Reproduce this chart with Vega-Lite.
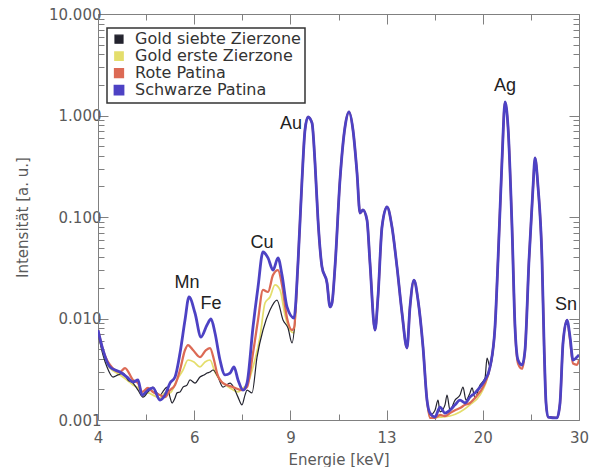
{
  "$schema": "https://vega.github.io/schema/vega-lite/v6.json",
  "width": 481,
  "height": 406,
  "autosize": {"type": "none"},
  "padding": {"left": 98, "top": 14, "right": 11, "bottom": 47},
  "background": "white",
  "config": {
    "view": {"stroke": null},
    "axis": {"grid": false, "domainColor": "#808080", "tickColor": "#808080", "labelFont": "DejaVu Sans", "labelFontSize": 15, "labelColor": "#5a5a5a", "titleFont": "DejaVu Sans", "titleFontSize": 15, "titleColor": "#5a5a5a", "titleFontWeight": "normal"}
  },
  "datasets": {
    "labels": [
      {"label": "Mn", "energy": 5.807, "intensity": 0.02},
      {"label": "Fe", "energy": 6.422, "intensity": 0.01241},
      {"label": "Cu", "energy": 7.951, "intensity": 0.0495},
      {"label": "Au", "energy": 8.978, "intensity": 0.7362},
      {"label": "Ag", "energy": 22.006, "intensity": 1.743},
      {"label": "Sn", "energy": 28.413, "intensity": 0.01213}
    ],
    "spectra": [
      {"series": "Gold erste Zierzone", "energy": 4.0, "intensity": 0.00736},
      {"series": "Gold erste Zierzone", "energy": 4.085, "intensity": 0.00468},
      {"series": "Gold erste Zierzone", "energy": 4.206, "intensity": 0.00325},
      {"series": "Gold erste Zierzone", "energy": 4.386, "intensity": 0.00278},
      {"series": "Gold erste Zierzone", "energy": 4.517, "intensity": 0.00248},
      {"series": "Gold erste Zierzone", "energy": 4.632, "intensity": 0.00221},
      {"series": "Gold erste Zierzone", "energy": 4.73, "intensity": 0.00207},
      {"series": "Gold erste Zierzone", "energy": 4.81, "intensity": 0.00176},
      {"series": "Gold erste Zierzone", "energy": 4.932, "intensity": 0.00185},
      {"series": "Gold erste Zierzone", "energy": 5.036, "intensity": 0.00176},
      {"series": "Gold erste Zierzone", "energy": 5.186, "intensity": 0.00165},
      {"series": "Gold erste Zierzone", "energy": 5.296, "intensity": 0.00185},
      {"series": "Gold erste Zierzone", "energy": 5.408, "intensity": 0.00185},
      {"series": "Gold erste Zierzone", "energy": 5.569, "intensity": 0.00248},
      {"series": "Gold erste Zierzone", "energy": 5.711, "intensity": 0.00311},
      {"series": "Gold erste Zierzone", "energy": 5.832, "intensity": 0.0039},
      {"series": "Gold erste Zierzone", "energy": 5.98, "intensity": 0.00373},
      {"series": "Gold erste Zierzone", "energy": 6.132, "intensity": 0.00333},
      {"series": "Gold erste Zierzone", "energy": 6.262, "intensity": 0.00373},
      {"series": "Gold erste Zierzone", "energy": 6.395, "intensity": 0.0039},
      {"series": "Gold erste Zierzone", "energy": 6.53, "intensity": 0.00297},
      {"series": "Gold erste Zierzone", "energy": 6.668, "intensity": 0.00248},
      {"series": "Gold erste Zierzone", "energy": 6.954, "intensity": 0.00207},
      {"series": "Gold erste Zierzone", "energy": 7.191, "intensity": 0.00189},
      {"series": "Gold erste Zierzone", "energy": 7.343, "intensity": 0.00207},
      {"series": "Gold erste Zierzone", "energy": 7.467, "intensity": 0.00221},
      {"series": "Gold erste Zierzone", "energy": 7.657, "intensity": 0.00333},
      {"series": "Gold erste Zierzone", "energy": 7.885, "intensity": 0.00657},
      {"series": "Gold erste Zierzone", "energy": 8.052, "intensity": 0.0142},
      {"series": "Gold erste Zierzone", "energy": 8.222, "intensity": 0.0163},
      {"series": "Gold erste Zierzone", "energy": 8.396, "intensity": 0.0214},
      {"series": "Gold erste Zierzone", "energy": 8.574, "intensity": 0.0191},
      {"series": "Gold erste Zierzone", "energy": 8.755, "intensity": 0.01083},
      {"series": "Gold erste Zierzone", "energy": 8.94, "intensity": 0.0077},
      {"series": "Gold erste Zierzone", "energy": 9.092, "intensity": 0.0072},
      {"series": "Gold erste Zierzone", "energy": 9.245, "intensity": 0.0352},
      {"series": "Gold erste Zierzone", "energy": 9.402, "intensity": 0.2314},
      {"series": "Gold erste Zierzone", "energy": 9.52, "intensity": 0.7197},
      {"series": "Gold erste Zierzone", "energy": 9.641, "intensity": 0.9665},
      {"series": "Gold erste Zierzone", "energy": 9.804, "intensity": 0.8435},
      {"series": "Gold erste Zierzone", "energy": 9.928, "intensity": 0.3404},
      {"series": "Gold erste Zierzone", "energy": 10.053, "intensity": 0.0934},
      {"series": "Gold erste Zierzone", "energy": 10.223, "intensity": 0.0322},
      {"series": "Gold erste Zierzone", "energy": 10.44, "intensity": 0.0224},
      {"series": "Gold erste Zierzone", "energy": 10.571, "intensity": 0.013},
      {"series": "Gold erste Zierzone", "energy": 10.66, "intensity": 0.0142},
      {"series": "Gold erste Zierzone", "energy": 10.795, "intensity": 0.0322},
      {"series": "Gold erste Zierzone", "energy": 11.023, "intensity": 0.2314},
      {"series": "Gold erste Zierzone", "energy": 11.257, "intensity": 0.77},
      {"series": "Gold erste Zierzone", "energy": 11.447, "intensity": 1.083},
      {"series": "Gold erste Zierzone", "energy": 11.64, "intensity": 0.7197},
      {"series": "Gold erste Zierzone", "energy": 11.838, "intensity": 0.2713},
      {"series": "Gold erste Zierzone", "energy": 11.986, "intensity": 0.1095},
      {"series": "Gold erste Zierzone", "energy": 12.138, "intensity": 0.1172},
      {"series": "Gold erste Zierzone", "energy": 12.343, "intensity": 0.0934},
      {"series": "Gold erste Zierzone", "energy": 12.499, "intensity": 0.0352},
      {"series": "Gold erste Zierzone", "energy": 12.764, "intensity": 0.0077},
      {"series": "Gold erste Zierzone", "energy": 12.925, "intensity": 0.0163},
      {"series": "Gold erste Zierzone", "energy": 13.144, "intensity": 0.0797},
      {"series": "Gold erste Zierzone", "energy": 13.422, "intensity": 0.1255},
      {"series": "Gold erste Zierzone", "energy": 13.706, "intensity": 0.0797},
      {"series": "Gold erste Zierzone", "energy": 13.996, "intensity": 0.0322},
      {"series": "Gold erste Zierzone", "energy": 14.293, "intensity": 0.01133},
      {"series": "Gold erste Zierzone", "energy": 14.595, "intensity": 0.00512},
      {"series": "Gold erste Zierzone", "energy": 14.78, "intensity": 0.013},
      {"series": "Gold erste Zierzone", "energy": 15.029, "intensity": 0.0239},
      {"series": "Gold erste Zierzone", "energy": 15.284, "intensity": 0.0152},
      {"series": "Gold erste Zierzone", "energy": 15.607, "intensity": 0.00524},
      {"series": "Gold erste Zierzone", "energy": 15.871, "intensity": 0.00157},
      {"series": "Gold erste Zierzone", "energy": 16.071, "intensity": 0.00105},
      {"series": "Gold erste Zierzone", "energy": 16.759, "intensity": 0.00107},
      {"series": "Gold erste Zierzone", "energy": 17.476, "intensity": 0.001095},
      {"series": "Gold erste Zierzone", "energy": 18.224, "intensity": 0.0012},
      {"series": "Gold erste Zierzone", "energy": 19.004, "intensity": 0.00141},
      {"series": "Gold erste Zierzone", "energy": 19.817, "intensity": 0.00176},
      {"series": "Gold erste Zierzone", "energy": 20.238, "intensity": 0.00221},
      {"series": "Gold erste Zierzone", "energy": 20.666, "intensity": 0.00333},
      {"series": "Gold erste Zierzone", "energy": 21.102, "intensity": 0.00825},
      {"series": "Gold erste Zierzone", "energy": 21.37, "intensity": 0.0377},
      {"series": "Gold erste Zierzone", "energy": 21.732, "intensity": 0.3643},
      {"series": "Gold erste Zierzone", "energy": 22.006, "intensity": 1.358},
      {"series": "Gold erste Zierzone", "energy": 22.285, "intensity": 0.77},
      {"series": "Gold erste Zierzone", "energy": 22.66, "intensity": 0.0797},
      {"series": "Gold erste Zierzone", "energy": 22.947, "intensity": 0.00825},
      {"series": "Gold erste Zierzone", "energy": 23.238, "intensity": 0.0039},
      {"series": "Gold erste Zierzone", "energy": 23.63, "intensity": 0.00348},
      {"series": "Gold erste Zierzone", "energy": 23.929, "intensity": 0.00489},
      {"series": "Gold erste Zierzone", "energy": 24.332, "intensity": 0.0377},
      {"series": "Gold erste Zierzone", "energy": 24.745, "intensity": 0.1975},
      {"series": "Gold erste Zierzone", "energy": 24.953, "intensity": 0.3814},
      {"series": "Gold erste Zierzone", "energy": 25.27, "intensity": 0.1975},
      {"series": "Gold erste Zierzone", "energy": 25.695, "intensity": 0.0377},
      {"series": "Gold erste Zierzone", "energy": 25.912, "intensity": 0.00574},
      {"series": "Gold erste Zierzone", "energy": 26.13, "intensity": 0.00147},
      {"series": "Gold erste Zierzone", "energy": 26.351, "intensity": 0.00107},
      {"series": "Gold erste Zierzone", "energy": 27.363, "intensity": 0.00105},
      {"series": "Gold erste Zierzone", "energy": 27.707, "intensity": 0.00147},
      {"series": "Gold erste Zierzone", "energy": 28.058, "intensity": 0.00574},
      {"series": "Gold erste Zierzone", "energy": 28.531, "intensity": 0.00966},
      {"series": "Gold erste Zierzone", "energy": 28.893, "intensity": 0.00657},
      {"series": "Gold erste Zierzone", "energy": 29.259, "intensity": 0.0039},
      {"series": "Gold erste Zierzone", "energy": 29.752, "intensity": 0.00417},
      {"series": "Gold erste Zierzone", "energy": 30.0, "intensity": 0.00437},

      {"series": "Gold siebte Zierzone", "energy": 4.0, "intensity": 0.0072},
      {"series": "Gold siebte Zierzone", "energy": 4.085, "intensity": 0.00437},
      {"series": "Gold siebte Zierzone", "energy": 4.154, "intensity": 0.00333},
      {"series": "Gold siebte Zierzone", "energy": 4.26, "intensity": 0.00265},
      {"series": "Gold siebte Zierzone", "energy": 4.35, "intensity": 0.00278},
      {"series": "Gold siebte Zierzone", "energy": 4.442, "intensity": 0.0029},
      {"series": "Gold siebte Zierzone", "energy": 4.536, "intensity": 0.00248},
      {"series": "Gold siebte Zierzone", "energy": 4.632, "intensity": 0.00231},
      {"series": "Gold siebte Zierzone", "energy": 4.73, "intensity": 0.00197},
      {"series": "Gold siebte Zierzone", "energy": 4.83, "intensity": 0.00168},
      {"series": "Gold siebte Zierzone", "energy": 4.932, "intensity": 0.00189},
      {"series": "Gold siebte Zierzone", "energy": 5.036, "intensity": 0.00211},
      {"series": "Gold siebte Zierzone", "energy": 5.121, "intensity": 0.00185},
      {"series": "Gold siebte Zierzone", "energy": 5.186, "intensity": 0.00176},
      {"series": "Gold siebte Zierzone", "energy": 5.274, "intensity": 0.00197},
      {"series": "Gold siebte Zierzone", "energy": 5.341, "intensity": 0.00211},
      {"series": "Gold siebte Zierzone", "energy": 5.408, "intensity": 0.00168},
      {"series": "Gold siebte Zierzone", "energy": 5.454, "intensity": 0.00147},
      {"series": "Gold siebte Zierzone", "energy": 5.523, "intensity": 0.00165},
      {"series": "Gold siebte Zierzone", "energy": 5.569, "intensity": 0.00185},
      {"series": "Gold siebte Zierzone", "energy": 5.64, "intensity": 0.00189},
      {"series": "Gold siebte Zierzone", "energy": 5.711, "intensity": 0.00211},
      {"series": "Gold siebte Zierzone", "energy": 5.807, "intensity": 0.00221},
      {"series": "Gold siebte Zierzone", "energy": 5.881, "intensity": 0.00248},
      {"series": "Gold siebte Zierzone", "energy": 6.005, "intensity": 0.00231},
      {"series": "Gold siebte Zierzone", "energy": 6.132, "intensity": 0.00265},
      {"series": "Gold siebte Zierzone", "energy": 6.236, "intensity": 0.00278},
      {"series": "Gold siebte Zierzone", "energy": 6.315, "intensity": 0.0029},
      {"series": "Gold siebte Zierzone", "energy": 6.395, "intensity": 0.00297},
      {"series": "Gold siebte Zierzone", "energy": 6.475, "intensity": 0.00311},
      {"series": "Gold siebte Zierzone", "energy": 6.612, "intensity": 0.00265},
      {"series": "Gold siebte Zierzone", "energy": 6.752, "intensity": 0.00211},
      {"series": "Gold siebte Zierzone", "energy": 6.954, "intensity": 0.00231},
      {"series": "Gold siebte Zierzone", "energy": 7.071, "intensity": 0.00207},
      {"series": "Gold siebte Zierzone", "energy": 7.191, "intensity": 0.00168},
      {"series": "Gold siebte Zierzone", "energy": 7.312, "intensity": 0.00141},
      {"series": "Gold siebte Zierzone", "energy": 7.404, "intensity": 0.00176},
      {"series": "Gold siebte Zierzone", "energy": 7.467, "intensity": 0.00197},
      {"series": "Gold siebte Zierzone", "energy": 7.625, "intensity": 0.00185},
      {"series": "Gold siebte Zierzone", "energy": 7.787, "intensity": 0.00417},
      {"series": "Gold siebte Zierzone", "energy": 7.984, "intensity": 0.0077},
      {"series": "Gold siebte Zierzone", "energy": 8.222, "intensity": 0.01213},
      {"series": "Gold siebte Zierzone", "energy": 8.466, "intensity": 0.0152},
      {"series": "Gold siebte Zierzone", "energy": 8.682, "intensity": 0.00966},
      {"series": "Gold siebte Zierzone", "energy": 8.866, "intensity": 0.00806},
      {"series": "Gold siebte Zierzone", "energy": 9.016, "intensity": 0.00574},
      {"series": "Gold siebte Zierzone", "energy": 9.13, "intensity": 0.00966},
      {"series": "Gold siebte Zierzone", "energy": 9.245, "intensity": 0.0352},
      {"series": "Gold siebte Zierzone", "energy": 9.402, "intensity": 0.2314},
      {"series": "Gold siebte Zierzone", "energy": 9.52, "intensity": 0.7197},
      {"series": "Gold siebte Zierzone", "energy": 9.641, "intensity": 0.9665},
      {"series": "Gold siebte Zierzone", "energy": 9.804, "intensity": 0.8435},
      {"series": "Gold siebte Zierzone", "energy": 9.928, "intensity": 0.3404},
      {"series": "Gold siebte Zierzone", "energy": 10.053, "intensity": 0.0934},
      {"series": "Gold siebte Zierzone", "energy": 10.223, "intensity": 0.0322},
      {"series": "Gold siebte Zierzone", "energy": 10.44, "intensity": 0.0224},
      {"series": "Gold siebte Zierzone", "energy": 10.571, "intensity": 0.013},
      {"series": "Gold siebte Zierzone", "energy": 10.66, "intensity": 0.0142},
      {"series": "Gold siebte Zierzone", "energy": 10.795, "intensity": 0.0322},
      {"series": "Gold siebte Zierzone", "energy": 11.023, "intensity": 0.2314},
      {"series": "Gold siebte Zierzone", "energy": 11.257, "intensity": 0.77},
      {"series": "Gold siebte Zierzone", "energy": 11.447, "intensity": 1.083},
      {"series": "Gold siebte Zierzone", "energy": 11.64, "intensity": 0.7197},
      {"series": "Gold siebte Zierzone", "energy": 11.838, "intensity": 0.2713},
      {"series": "Gold siebte Zierzone", "energy": 11.986, "intensity": 0.1095},
      {"series": "Gold siebte Zierzone", "energy": 12.138, "intensity": 0.1172},
      {"series": "Gold siebte Zierzone", "energy": 12.343, "intensity": 0.0934},
      {"series": "Gold siebte Zierzone", "energy": 12.499, "intensity": 0.0352},
      {"series": "Gold siebte Zierzone", "energy": 12.764, "intensity": 0.0077},
      {"series": "Gold siebte Zierzone", "energy": 12.925, "intensity": 0.0163},
      {"series": "Gold siebte Zierzone", "energy": 13.144, "intensity": 0.0797},
      {"series": "Gold siebte Zierzone", "energy": 13.422, "intensity": 0.1255},
      {"series": "Gold siebte Zierzone", "energy": 13.706, "intensity": 0.0797},
      {"series": "Gold siebte Zierzone", "energy": 13.996, "intensity": 0.0322},
      {"series": "Gold siebte Zierzone", "energy": 14.293, "intensity": 0.01133},
      {"series": "Gold siebte Zierzone", "energy": 14.595, "intensity": 0.00512},
      {"series": "Gold siebte Zierzone", "energy": 14.78, "intensity": 0.013},
      {"series": "Gold siebte Zierzone", "energy": 15.029, "intensity": 0.0239},
      {"series": "Gold siebte Zierzone", "energy": 15.284, "intensity": 0.0152},
      {"series": "Gold siebte Zierzone", "energy": 15.607, "intensity": 0.00524},
      {"series": "Gold siebte Zierzone", "energy": 15.871, "intensity": 0.00157},
      {"series": "Gold siebte Zierzone", "energy": 16.071, "intensity": 0.00112},
      {"series": "Gold siebte Zierzone", "energy": 16.412, "intensity": 0.00125},
      {"series": "Gold siebte Zierzone", "energy": 16.62, "intensity": 0.00157},
      {"series": "Gold siebte Zierzone", "energy": 16.759, "intensity": 0.0012},
      {"series": "Gold siebte Zierzone", "energy": 17.114, "intensity": 0.00141},
      {"series": "Gold siebte Zierzone", "energy": 17.259, "intensity": 0.00176},
      {"series": "Gold siebte Zierzone", "energy": 17.476, "intensity": 0.00125},
      {"series": "Gold siebte Zierzone", "energy": 17.847, "intensity": 0.00157},
      {"series": "Gold siebte Zierzone", "energy": 18.224, "intensity": 0.00176},
      {"series": "Gold siebte Zierzone", "energy": 18.455, "intensity": 0.00211},
      {"series": "Gold siebte Zierzone", "energy": 18.687, "intensity": 0.00157},
      {"series": "Gold siebte Zierzone", "energy": 19.004, "intensity": 0.00185},
      {"series": "Gold siebte Zierzone", "energy": 19.164, "intensity": 0.00207},
      {"series": "Gold siebte Zierzone", "energy": 19.407, "intensity": 0.00165},
      {"series": "Gold siebte Zierzone", "energy": 19.817, "intensity": 0.00221},
      {"series": "Gold siebte Zierzone", "energy": 20.238, "intensity": 0.00259},
      {"series": "Gold siebte Zierzone", "energy": 20.407, "intensity": 0.00408},
      {"series": "Gold siebte Zierzone", "energy": 20.666, "intensity": 0.00333},
      {"series": "Gold siebte Zierzone", "energy": 21.102, "intensity": 0.00825},
      {"series": "Gold siebte Zierzone", "energy": 21.37, "intensity": 0.0377},
      {"series": "Gold siebte Zierzone", "energy": 21.732, "intensity": 0.3643},
      {"series": "Gold siebte Zierzone", "energy": 22.006, "intensity": 1.358},
      {"series": "Gold siebte Zierzone", "energy": 22.285, "intensity": 0.77},
      {"series": "Gold siebte Zierzone", "energy": 22.66, "intensity": 0.0797},
      {"series": "Gold siebte Zierzone", "energy": 22.947, "intensity": 0.00825},
      {"series": "Gold siebte Zierzone", "energy": 23.238, "intensity": 0.0039},
      {"series": "Gold siebte Zierzone", "energy": 23.63, "intensity": 0.00348},
      {"series": "Gold siebte Zierzone", "energy": 23.929, "intensity": 0.00489},
      {"series": "Gold siebte Zierzone", "energy": 24.332, "intensity": 0.0377},
      {"series": "Gold siebte Zierzone", "energy": 24.745, "intensity": 0.1975},
      {"series": "Gold siebte Zierzone", "energy": 24.953, "intensity": 0.3814},
      {"series": "Gold siebte Zierzone", "energy": 25.27, "intensity": 0.1975},
      {"series": "Gold siebte Zierzone", "energy": 25.695, "intensity": 0.0377},
      {"series": "Gold siebte Zierzone", "energy": 25.912, "intensity": 0.00574},
      {"series": "Gold siebte Zierzone", "energy": 26.13, "intensity": 0.00147},
      {"series": "Gold siebte Zierzone", "energy": 26.351, "intensity": 0.00107},
      {"series": "Gold siebte Zierzone", "energy": 27.363, "intensity": 0.00105},
      {"series": "Gold siebte Zierzone", "energy": 27.707, "intensity": 0.00147},
      {"series": "Gold siebte Zierzone", "energy": 28.058, "intensity": 0.00574},
      {"series": "Gold siebte Zierzone", "energy": 28.531, "intensity": 0.00966},
      {"series": "Gold siebte Zierzone", "energy": 28.893, "intensity": 0.00657},
      {"series": "Gold siebte Zierzone", "energy": 29.259, "intensity": 0.0039},
      {"series": "Gold siebte Zierzone", "energy": 29.752, "intensity": 0.00417},
      {"series": "Gold siebte Zierzone", "energy": 30.0, "intensity": 0.00437},

      {"series": "Rote Patina", "energy": 4.0, "intensity": 0.0077},
      {"series": "Rote Patina", "energy": 4.085, "intensity": 0.00489},
      {"series": "Rote Patina", "energy": 4.206, "intensity": 0.00348},
      {"series": "Rote Patina", "energy": 4.386, "intensity": 0.00297},
      {"series": "Rote Patina", "energy": 4.479, "intensity": 0.00325},
      {"series": "Rote Patina", "energy": 4.632, "intensity": 0.00248},
      {"series": "Rote Patina", "energy": 4.73, "intensity": 0.00231},
      {"series": "Rote Patina", "energy": 4.81, "intensity": 0.00189},
      {"series": "Rote Patina", "energy": 4.932, "intensity": 0.00207},
      {"series": "Rote Patina", "energy": 5.036, "intensity": 0.00189},
      {"series": "Rote Patina", "energy": 5.186, "intensity": 0.00176},
      {"series": "Rote Patina", "energy": 5.296, "intensity": 0.00168},
      {"series": "Rote Patina", "energy": 5.408, "intensity": 0.00197},
      {"series": "Rote Patina", "energy": 5.523, "intensity": 0.00221},
      {"series": "Rote Patina", "energy": 5.64, "intensity": 0.00311},
      {"series": "Rote Patina", "energy": 5.759, "intensity": 0.00489},
      {"series": "Rote Patina", "energy": 5.832, "intensity": 0.00548},
      {"series": "Rote Patina", "energy": 5.955, "intensity": 0.00489},
      {"series": "Rote Patina", "energy": 6.132, "intensity": 0.00417},
      {"series": "Rote Patina", "energy": 6.288, "intensity": 0.00489},
      {"series": "Rote Patina", "energy": 6.395, "intensity": 0.00512},
      {"series": "Rote Patina", "energy": 6.503, "intensity": 0.0039},
      {"series": "Rote Patina", "energy": 6.585, "intensity": 0.0029},
      {"series": "Rote Patina", "energy": 6.752, "intensity": 0.00231},
      {"series": "Rote Patina", "energy": 7.042, "intensity": 0.00211},
      {"series": "Rote Patina", "energy": 7.312, "intensity": 0.00197},
      {"series": "Rote Patina", "energy": 7.467, "intensity": 0.00211},
      {"series": "Rote Patina", "energy": 7.657, "intensity": 0.00457},
      {"series": "Rote Patina", "energy": 7.819, "intensity": 0.00966},
      {"series": "Rote Patina", "energy": 7.984, "intensity": 0.0191},
      {"series": "Rote Patina", "energy": 8.153, "intensity": 0.01825},
      {"series": "Rote Patina", "energy": 8.326, "intensity": 0.0268},
      {"series": "Rote Patina", "energy": 8.502, "intensity": 0.03},
      {"series": "Rote Patina", "energy": 8.646, "intensity": 0.0214},
      {"series": "Rote Patina", "energy": 8.829, "intensity": 0.01011},
      {"series": "Rote Patina", "energy": 9.016, "intensity": 0.0077},
      {"series": "Rote Patina", "energy": 9.092, "intensity": 0.00806},
      {"series": "Rote Patina", "energy": 9.245, "intensity": 0.0352},
      {"series": "Rote Patina", "energy": 9.402, "intensity": 0.2314},
      {"series": "Rote Patina", "energy": 9.52, "intensity": 0.7197},
      {"series": "Rote Patina", "energy": 9.641, "intensity": 0.9665},
      {"series": "Rote Patina", "energy": 9.804, "intensity": 0.8435},
      {"series": "Rote Patina", "energy": 9.928, "intensity": 0.3404},
      {"series": "Rote Patina", "energy": 10.053, "intensity": 0.0934},
      {"series": "Rote Patina", "energy": 10.223, "intensity": 0.0322},
      {"series": "Rote Patina", "energy": 10.44, "intensity": 0.0224},
      {"series": "Rote Patina", "energy": 10.571, "intensity": 0.013},
      {"series": "Rote Patina", "energy": 10.66, "intensity": 0.0142},
      {"series": "Rote Patina", "energy": 10.795, "intensity": 0.0322},
      {"series": "Rote Patina", "energy": 11.023, "intensity": 0.2314},
      {"series": "Rote Patina", "energy": 11.257, "intensity": 0.77},
      {"series": "Rote Patina", "energy": 11.447, "intensity": 1.083},
      {"series": "Rote Patina", "energy": 11.64, "intensity": 0.7197},
      {"series": "Rote Patina", "energy": 11.838, "intensity": 0.2713},
      {"series": "Rote Patina", "energy": 11.986, "intensity": 0.1095},
      {"series": "Rote Patina", "energy": 12.138, "intensity": 0.1172},
      {"series": "Rote Patina", "energy": 12.343, "intensity": 0.0934},
      {"series": "Rote Patina", "energy": 12.499, "intensity": 0.0352},
      {"series": "Rote Patina", "energy": 12.764, "intensity": 0.0077},
      {"series": "Rote Patina", "energy": 12.925, "intensity": 0.0163},
      {"series": "Rote Patina", "energy": 13.144, "intensity": 0.0797},
      {"series": "Rote Patina", "energy": 13.422, "intensity": 0.1255},
      {"series": "Rote Patina", "energy": 13.706, "intensity": 0.0797},
      {"series": "Rote Patina", "energy": 13.996, "intensity": 0.0322},
      {"series": "Rote Patina", "energy": 14.293, "intensity": 0.01133},
      {"series": "Rote Patina", "energy": 14.595, "intensity": 0.00512},
      {"series": "Rote Patina", "energy": 14.78, "intensity": 0.013},
      {"series": "Rote Patina", "energy": 15.029, "intensity": 0.0239},
      {"series": "Rote Patina", "energy": 15.284, "intensity": 0.0152},
      {"series": "Rote Patina", "energy": 15.607, "intensity": 0.00524},
      {"series": "Rote Patina", "energy": 15.871, "intensity": 0.00157},
      {"series": "Rote Patina", "energy": 16.071, "intensity": 0.00105},
      {"series": "Rote Patina", "energy": 16.412, "intensity": 0.00105},
      {"series": "Rote Patina", "energy": 16.759, "intensity": 0.00112},
      {"series": "Rote Patina", "energy": 17.114, "intensity": 0.001095},
      {"series": "Rote Patina", "energy": 17.476, "intensity": 0.00117},
      {"series": "Rote Patina", "energy": 17.847, "intensity": 0.00125},
      {"series": "Rote Patina", "energy": 18.224, "intensity": 0.00131},
      {"series": "Rote Patina", "energy": 18.611, "intensity": 0.00141},
      {"series": "Rote Patina", "energy": 19.004, "intensity": 0.00147},
      {"series": "Rote Patina", "energy": 19.407, "intensity": 0.00165},
      {"series": "Rote Patina", "energy": 19.817, "intensity": 0.00189},
      {"series": "Rote Patina", "energy": 20.238, "intensity": 0.00231},
      {"series": "Rote Patina", "energy": 20.666, "intensity": 0.00333},
      {"series": "Rote Patina", "energy": 21.102, "intensity": 0.00825},
      {"series": "Rote Patina", "energy": 21.37, "intensity": 0.0377},
      {"series": "Rote Patina", "energy": 21.732, "intensity": 0.3643},
      {"series": "Rote Patina", "energy": 22.006, "intensity": 1.358},
      {"series": "Rote Patina", "energy": 22.285, "intensity": 0.77},
      {"series": "Rote Patina", "energy": 22.66, "intensity": 0.0797},
      {"series": "Rote Patina", "energy": 22.947, "intensity": 0.00825},
      {"series": "Rote Patina", "energy": 23.238, "intensity": 0.0036},
      {"series": "Rote Patina", "energy": 23.63, "intensity": 0.0032},
      {"series": "Rote Patina", "energy": 23.929, "intensity": 0.00489},
      {"series": "Rote Patina", "energy": 24.332, "intensity": 0.0377},
      {"series": "Rote Patina", "energy": 24.745, "intensity": 0.1975},
      {"series": "Rote Patina", "energy": 24.953, "intensity": 0.3814},
      {"series": "Rote Patina", "energy": 25.27, "intensity": 0.1975},
      {"series": "Rote Patina", "energy": 25.695, "intensity": 0.0377},
      {"series": "Rote Patina", "energy": 25.912, "intensity": 0.00574},
      {"series": "Rote Patina", "energy": 26.13, "intensity": 0.00147},
      {"series": "Rote Patina", "energy": 26.351, "intensity": 0.00107},
      {"series": "Rote Patina", "energy": 27.363, "intensity": 0.00105},
      {"series": "Rote Patina", "energy": 27.707, "intensity": 0.00147},
      {"series": "Rote Patina", "energy": 28.058, "intensity": 0.00574},
      {"series": "Rote Patina", "energy": 28.531, "intensity": 0.00966},
      {"series": "Rote Patina", "energy": 28.893, "intensity": 0.0062},
      {"series": "Rote Patina", "energy": 29.259, "intensity": 0.0036},
      {"series": "Rote Patina", "energy": 29.752, "intensity": 0.0035},
      {"series": "Rote Patina", "energy": 30.0, "intensity": 0.0039},

      {"series": "Schwarze Patina", "energy": 4.0, "intensity": 0.0077},
      {"series": "Schwarze Patina", "energy": 4.085, "intensity": 0.00489},
      {"series": "Schwarze Patina", "energy": 4.206, "intensity": 0.00333},
      {"series": "Schwarze Patina", "energy": 4.386, "intensity": 0.00297},
      {"series": "Schwarze Patina", "energy": 4.517, "intensity": 0.00265},
      {"series": "Schwarze Patina", "energy": 4.632, "intensity": 0.00237},
      {"series": "Schwarze Patina", "energy": 4.73, "intensity": 0.00248},
      {"series": "Schwarze Patina", "energy": 4.81, "intensity": 0.00176},
      {"series": "Schwarze Patina", "energy": 4.932, "intensity": 0.00197},
      {"series": "Schwarze Patina", "energy": 5.036, "intensity": 0.00207},
      {"series": "Schwarze Patina", "energy": 5.186, "intensity": 0.00157},
      {"series": "Schwarze Patina", "energy": 5.296, "intensity": 0.00176},
      {"series": "Schwarze Patina", "energy": 5.408, "intensity": 0.00231},
      {"series": "Schwarze Patina", "energy": 5.523, "intensity": 0.00265},
      {"series": "Schwarze Patina", "energy": 5.64, "intensity": 0.00457},
      {"series": "Schwarze Patina", "energy": 5.759, "intensity": 0.00966},
      {"series": "Schwarze Patina", "energy": 5.856, "intensity": 0.0163},
      {"series": "Schwarze Patina", "energy": 6.005, "intensity": 0.01133},
      {"series": "Schwarze Patina", "energy": 6.158, "intensity": 0.00657},
      {"series": "Schwarze Patina", "energy": 6.315, "intensity": 0.00863},
      {"series": "Schwarze Patina", "energy": 6.422, "intensity": 0.00989},
      {"series": "Schwarze Patina", "energy": 6.53, "intensity": 0.0072},
      {"series": "Schwarze Patina", "energy": 6.668, "intensity": 0.0039},
      {"series": "Schwarze Patina", "energy": 6.81, "intensity": 0.00278},
      {"series": "Schwarze Patina", "energy": 6.954, "intensity": 0.0029},
      {"series": "Schwarze Patina", "energy": 7.071, "intensity": 0.00333},
      {"series": "Schwarze Patina", "energy": 7.191, "intensity": 0.00248},
      {"series": "Schwarze Patina", "energy": 7.343, "intensity": 0.00197},
      {"series": "Schwarze Patina", "energy": 7.467, "intensity": 0.00231},
      {"series": "Schwarze Patina", "energy": 7.657, "intensity": 0.00825},
      {"series": "Schwarze Patina", "energy": 7.819, "intensity": 0.0204},
      {"series": "Schwarze Patina", "energy": 7.984, "intensity": 0.0452},
      {"series": "Schwarze Patina", "energy": 8.153, "intensity": 0.0395},
      {"series": "Schwarze Patina", "energy": 8.326, "intensity": 0.03},
      {"series": "Schwarze Patina", "energy": 8.502, "intensity": 0.0395},
      {"series": "Schwarze Patina", "energy": 8.646, "intensity": 0.0268},
      {"series": "Schwarze Patina", "energy": 8.829, "intensity": 0.013},
      {"series": "Schwarze Patina", "energy": 9.092, "intensity": 0.01011},
      {"series": "Schwarze Patina", "energy": 9.245, "intensity": 0.0352},
      {"series": "Schwarze Patina", "energy": 9.402, "intensity": 0.2314},
      {"series": "Schwarze Patina", "energy": 9.52, "intensity": 0.7197},
      {"series": "Schwarze Patina", "energy": 9.641, "intensity": 0.9665},
      {"series": "Schwarze Patina", "energy": 9.804, "intensity": 0.8435},
      {"series": "Schwarze Patina", "energy": 9.928, "intensity": 0.3404},
      {"series": "Schwarze Patina", "energy": 10.053, "intensity": 0.0934},
      {"series": "Schwarze Patina", "energy": 10.223, "intensity": 0.0322},
      {"series": "Schwarze Patina", "energy": 10.44, "intensity": 0.0224},
      {"series": "Schwarze Patina", "energy": 10.571, "intensity": 0.013},
      {"series": "Schwarze Patina", "energy": 10.66, "intensity": 0.0142},
      {"series": "Schwarze Patina", "energy": 10.795, "intensity": 0.0322},
      {"series": "Schwarze Patina", "energy": 11.023, "intensity": 0.2314},
      {"series": "Schwarze Patina", "energy": 11.257, "intensity": 0.77},
      {"series": "Schwarze Patina", "energy": 11.447, "intensity": 1.083},
      {"series": "Schwarze Patina", "energy": 11.64, "intensity": 0.7197},
      {"series": "Schwarze Patina", "energy": 11.838, "intensity": 0.2713},
      {"series": "Schwarze Patina", "energy": 11.986, "intensity": 0.1095},
      {"series": "Schwarze Patina", "energy": 12.138, "intensity": 0.1172},
      {"series": "Schwarze Patina", "energy": 12.343, "intensity": 0.0934},
      {"series": "Schwarze Patina", "energy": 12.499, "intensity": 0.0352},
      {"series": "Schwarze Patina", "energy": 12.764, "intensity": 0.0077},
      {"series": "Schwarze Patina", "energy": 12.925, "intensity": 0.0163},
      {"series": "Schwarze Patina", "energy": 13.144, "intensity": 0.0797},
      {"series": "Schwarze Patina", "energy": 13.422, "intensity": 0.1255},
      {"series": "Schwarze Patina", "energy": 13.706, "intensity": 0.0797},
      {"series": "Schwarze Patina", "energy": 13.996, "intensity": 0.0322},
      {"series": "Schwarze Patina", "energy": 14.293, "intensity": 0.01133},
      {"series": "Schwarze Patina", "energy": 14.595, "intensity": 0.00512},
      {"series": "Schwarze Patina", "energy": 14.78, "intensity": 0.013},
      {"series": "Schwarze Patina", "energy": 15.029, "intensity": 0.0239},
      {"series": "Schwarze Patina", "energy": 15.284, "intensity": 0.0152},
      {"series": "Schwarze Patina", "energy": 15.607, "intensity": 0.00524},
      {"series": "Schwarze Patina", "energy": 15.871, "intensity": 0.00157},
      {"series": "Schwarze Patina", "energy": 16.071, "intensity": 0.00117},
      {"series": "Schwarze Patina", "energy": 16.412, "intensity": 0.00107},
      {"series": "Schwarze Patina", "energy": 16.759, "intensity": 0.00134},
      {"series": "Schwarze Patina", "energy": 17.114, "intensity": 0.00117},
      {"series": "Schwarze Patina", "energy": 17.476, "intensity": 0.00125},
      {"series": "Schwarze Patina", "energy": 17.847, "intensity": 0.00141},
      {"series": "Schwarze Patina", "energy": 18.224, "intensity": 0.00157},
      {"series": "Schwarze Patina", "energy": 18.611, "intensity": 0.00147},
      {"series": "Schwarze Patina", "energy": 19.004, "intensity": 0.00168},
      {"series": "Schwarze Patina", "energy": 19.407, "intensity": 0.00185},
      {"series": "Schwarze Patina", "energy": 19.817, "intensity": 0.00211},
      {"series": "Schwarze Patina", "energy": 20.238, "intensity": 0.00248},
      {"series": "Schwarze Patina", "energy": 20.666, "intensity": 0.00333},
      {"series": "Schwarze Patina", "energy": 21.102, "intensity": 0.00825},
      {"series": "Schwarze Patina", "energy": 21.37, "intensity": 0.0377},
      {"series": "Schwarze Patina", "energy": 21.732, "intensity": 0.3643},
      {"series": "Schwarze Patina", "energy": 22.006, "intensity": 1.358},
      {"series": "Schwarze Patina", "energy": 22.285, "intensity": 0.77},
      {"series": "Schwarze Patina", "energy": 22.66, "intensity": 0.0797},
      {"series": "Schwarze Patina", "energy": 22.947, "intensity": 0.00825},
      {"series": "Schwarze Patina", "energy": 23.238, "intensity": 0.0039},
      {"series": "Schwarze Patina", "energy": 23.63, "intensity": 0.00348},
      {"series": "Schwarze Patina", "energy": 23.929, "intensity": 0.00489},
      {"series": "Schwarze Patina", "energy": 24.332, "intensity": 0.0377},
      {"series": "Schwarze Patina", "energy": 24.745, "intensity": 0.1975},
      {"series": "Schwarze Patina", "energy": 24.953, "intensity": 0.3814},
      {"series": "Schwarze Patina", "energy": 25.27, "intensity": 0.1975},
      {"series": "Schwarze Patina", "energy": 25.695, "intensity": 0.0377},
      {"series": "Schwarze Patina", "energy": 25.912, "intensity": 0.00574},
      {"series": "Schwarze Patina", "energy": 26.13, "intensity": 0.00147},
      {"series": "Schwarze Patina", "energy": 26.351, "intensity": 0.00107},
      {"series": "Schwarze Patina", "energy": 27.363, "intensity": 0.00105},
      {"series": "Schwarze Patina", "energy": 27.707, "intensity": 0.00147},
      {"series": "Schwarze Patina", "energy": 28.058, "intensity": 0.00574},
      {"series": "Schwarze Patina", "energy": 28.531, "intensity": 0.00966},
      {"series": "Schwarze Patina", "energy": 28.893, "intensity": 0.00657},
      {"series": "Schwarze Patina", "energy": 29.259, "intensity": 0.0039},
      {"series": "Schwarze Patina", "energy": 29.752, "intensity": 0.00417},
      {"series": "Schwarze Patina", "energy": 30.0, "intensity": 0.00437}
    ]
  },
  "layer": [
    {
      "data": {"name": "spectra"},
      "mark": {"type": "line", "clip": true, "interpolate": "monotone"},
      "encoding": {
        "x": {
          "field": "energy", "type": "quantitative",
          "scale": {"type": "log", "domain": [4, 30], "nice": false},
          "axis": {
            "orient": "bottom",
            "values": [4, 4.8929, 5.98512, 7.3211, 8.95542, 10.9545, 13.3998, 16.391, 20.0498, 24.525, 30],
            "labelExpr": "abs(5*log(datum.value/4)/log(7.5) - round(5*log(datum.value/4)/log(7.5))) < 0.01 ? format(datum.value, '.0f') : ''",
            "tickSize": {"condition": {"test": "abs(5*log(datum.value/4)/log(7.5) - round(5*log(datum.value/4)/log(7.5))) < 0.01", "value": -10}, "value": -6},
            "labelPadding": 20,
            "labelFlush": false,
            "labelOverlap": false,
            "title": "Energie [keV]",
            "titlePadding": 3
          }
        },
        "y": {
          "field": "intensity", "type": "quantitative",
          "scale": {"type": "log", "domain": [0.001, 10], "nice": false},
          "axis": {
            "orient": "left",
            "values": [0.001, 0.002, 0.003, 0.004, 0.005, 0.006, 0.007, 0.008, 0.009, 0.01, 0.02, 0.03, 0.04, 0.05, 0.06, 0.07, 0.08, 0.09, 0.1, 0.2, 0.3, 0.4, 0.5, 0.6, 0.7, 0.8, 0.9, 1, 2, 3, 4, 5, 6, 7, 8, 9, 10],
            "labelExpr": "abs(log(datum.value)/LN10 - round(log(datum.value)/LN10)) < 0.001 ? format(datum.value, '.3f') : ''",
            "tickSize": {"condition": {"test": "abs(log(datum.value)/LN10 - round(log(datum.value)/LN10)) < 0.001", "value": -10}, "value": -6},
            "labelPadding": 7,
            "labelFlush": false,
            "labelOverlap": false,
            "title": "Intensität [a. u.]",
            "titlePadding": 18
          }
        },
        "color": {
          "field": "series", "type": "nominal",
          "scale": {
            "domain": ["Gold siebte Zierzone", "Gold erste Zierzone", "Rote Patina", "Schwarze Patina"],
            "range": ["#23232e", "#e4de6c", "#dc6a55", "#4d42c4"]
          },
          "legend": {
            "title": null, "orient": "none", "legendX": 9, "legendY": 14,
            "symbolType": "square", "symbolSize": 64, "symbolStrokeWidth": 0,
            "labelFont": "DejaVu Sans", "labelFontSize": 16, "labelColor": "#333333", "labelLimit": 400,
            "clipHeight": 14.3, "rowPadding": 0, "padding": 4, "labelOffset": 8,
            "strokeColor": "#333333", "fillColor": "white",
            "encode": {
              "symbols": {"update": {"fill": {"scale": "color", "field": "value"}, "opacity": {"value": 1}}},
              "legend": {"update": {"strokeWidth": {"value": 1.5}}}
            }
          }
        },
        "strokeWidth": {
          "field": "series", "type": "nominal",
          "scale": {"domain": ["Gold siebte Zierzone", "Gold erste Zierzone", "Rote Patina", "Schwarze Patina"], "range": [1.2, 2.8, 1.3, 1.4]},
          "legend": null
        }
      }
    },
    {
      "data": {"name": "labels"},
      "mark": {"type": "text", "align": "center", "baseline": "alphabetic", "font": "Liberation Sans", "fontSize": 18, "color": "#222222"},
      "encoding": {
        "x": {
          "field": "energy", "type": "quantitative",
          "scale": {"type": "log", "domain": [4, 30], "nice": false},
          "axis": {
            "orient": "top",
            "values": [4, 4.8929, 5.98512, 7.3211, 8.95542, 10.9545, 13.3998, 16.391, 20.0498, 24.525, 30],
            "labels": false, "title": null,
            "tickSize": {"condition": {"test": "abs(5*log(datum.value/4)/log(7.5) - round(5*log(datum.value/4)/log(7.5))) < 0.01", "value": -10}, "value": -6}
          }
        },
        "y": {
          "field": "intensity", "type": "quantitative",
          "scale": {"type": "log", "domain": [0.001, 10], "nice": false},
          "axis": {
            "orient": "right",
            "values": [0.001, 0.002, 0.003, 0.004, 0.005, 0.006, 0.007, 0.008, 0.009, 0.01, 0.02, 0.03, 0.04, 0.05, 0.06, 0.07, 0.08, 0.09, 0.1, 0.2, 0.3, 0.4, 0.5, 0.6, 0.7, 0.8, 0.9, 1, 2, 3, 4, 5, 6, 7, 8, 9, 10],
            "labels": false, "title": null,
            "tickSize": {"condition": {"test": "abs(log(datum.value)/LN10 - round(log(datum.value)/LN10)) < 0.001", "value": -10}, "value": -6}
          }
        },
        "text": {"field": "label", "type": "nominal"}
      }
    }
  ],
  "resolve": {"axis": {"x": "independent", "y": "independent"}}
}
